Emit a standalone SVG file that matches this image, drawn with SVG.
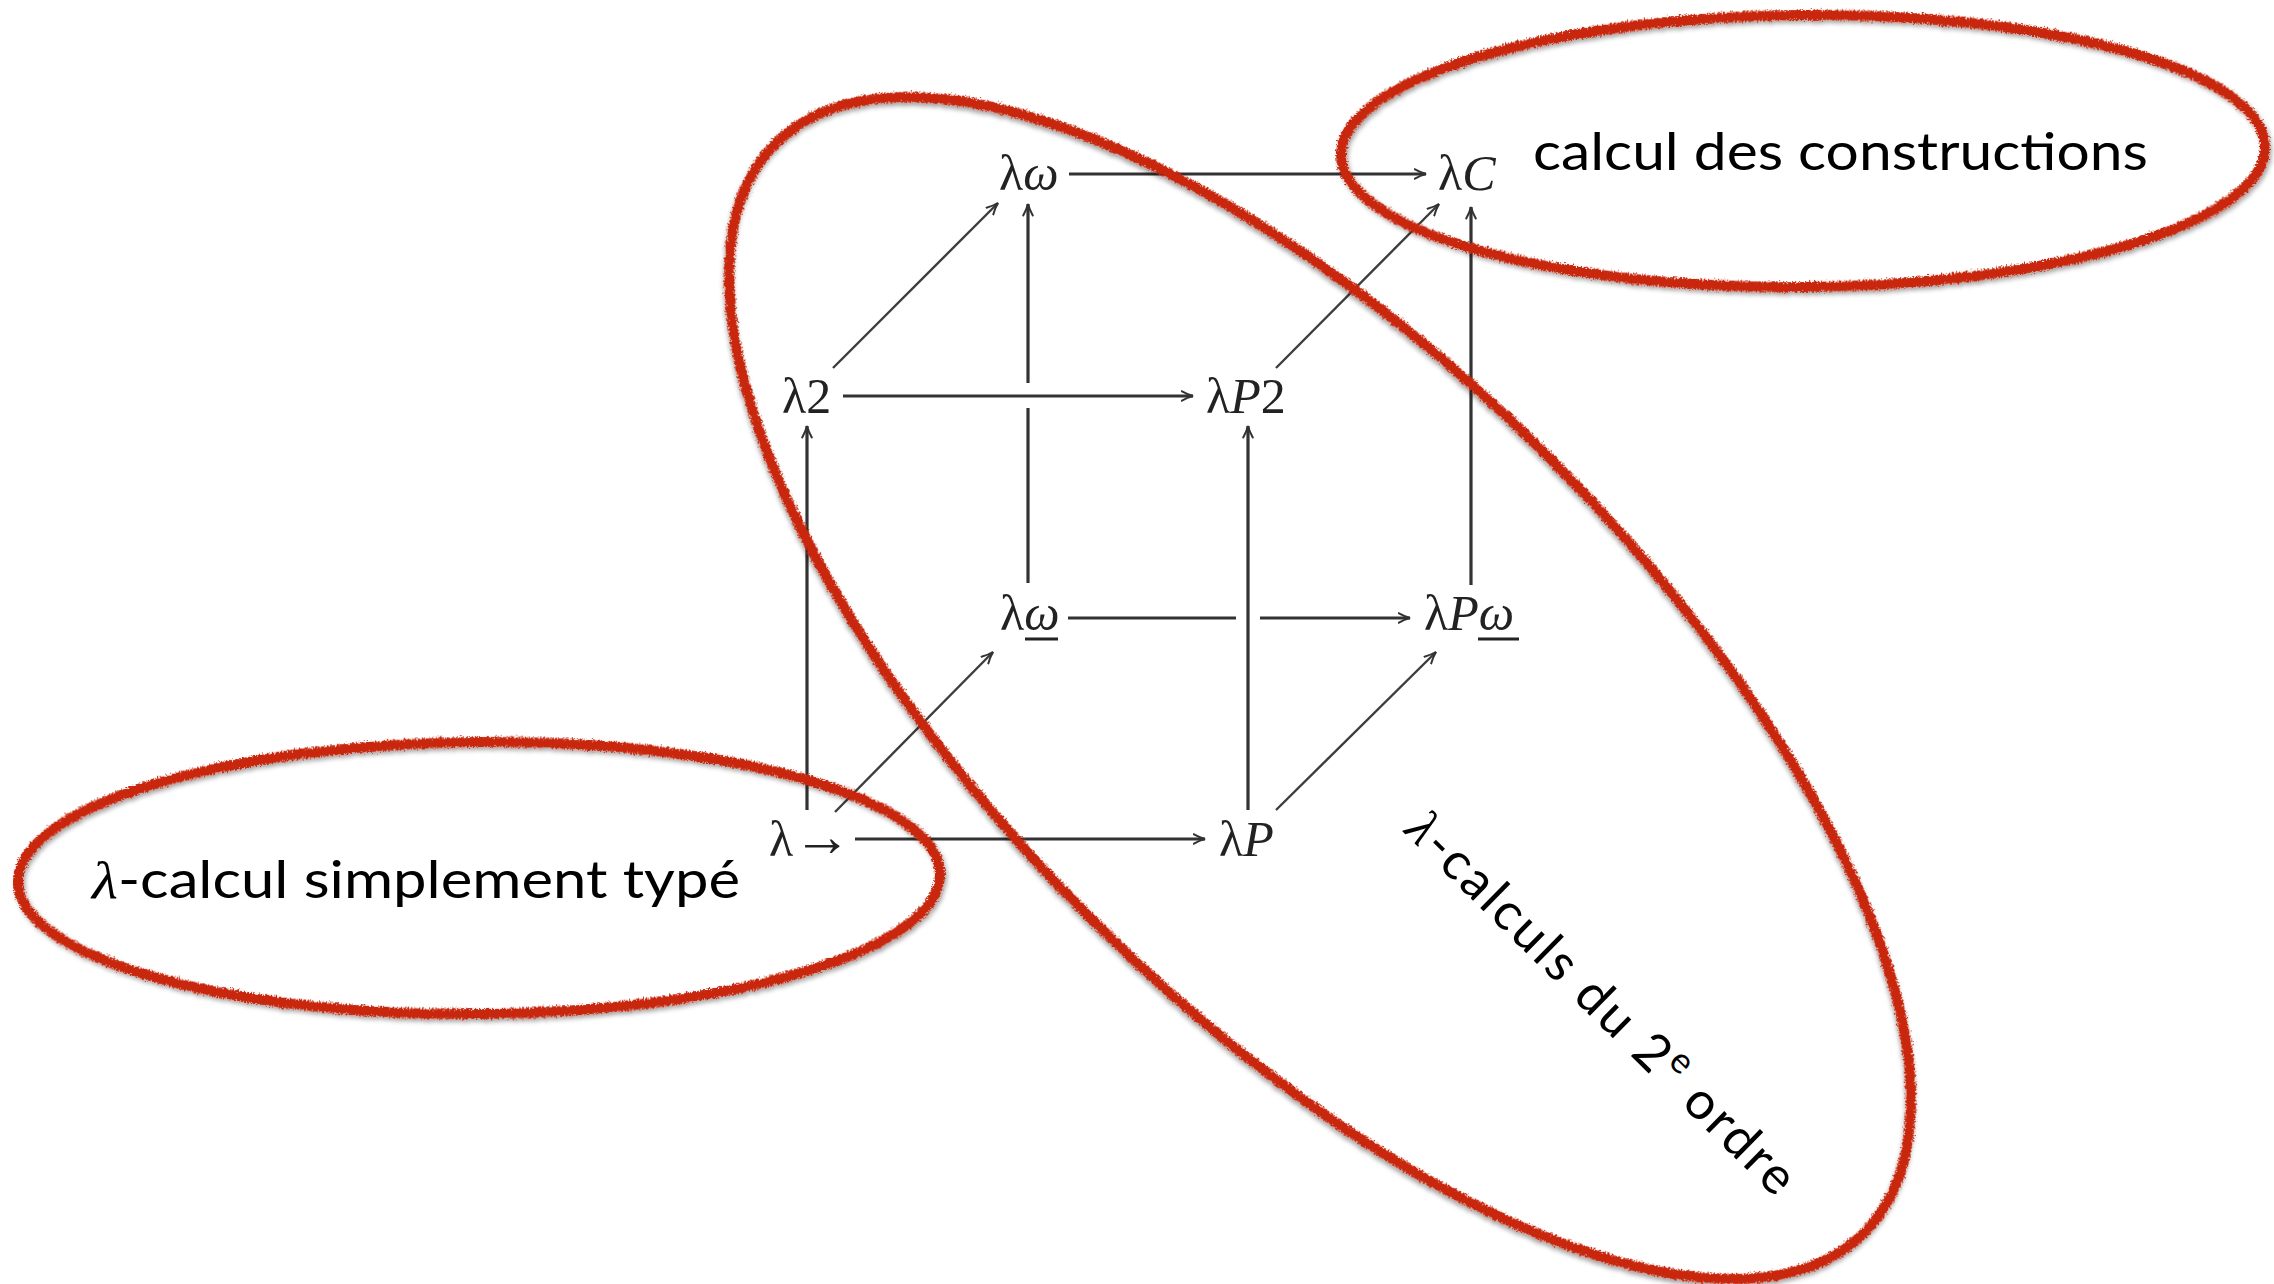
<svg xmlns="http://www.w3.org/2000/svg" width="2274" height="1284" viewBox="0 0 2274 1284">
  <style>
    .math { font-family: "Liberation Serif", "DejaVu Serif", serif; font-size: 50px; fill: #222; }
    .it { font-style: italic; }
    .arrowglyph { font-family: "Liberation Serif", serif; font-size: 58px; }
    .edge { fill: none; stroke: #333; stroke-width: 3.2; }
    .diag { fill: none; stroke: #3c3c3c; stroke-width: 2.4; }
    .ul { stroke: #222; stroke-width: 2.8; }
    .ring { fill: none; stroke: #c8280c; stroke-width: 10; }
    .note { font-family: "Lato", "Noto Sans", "DejaVu Sans", sans-serif; font-size: 52px; fill: #000; }
    .lam { font-family: "Liberation Serif", "DejaVu Serif", serif; font-style: italic; }
  </style>
  <defs>
    <marker id="arr" markerUnits="userSpaceOnUse" viewBox="0 0 14 12" markerWidth="14" markerHeight="12" refX="12.5" refY="6" orient="auto">
      <path d="M1,1.2 Q7,4.6 12.5,6 Q7,7.4 1,10.8" fill="none" stroke="#333" stroke-width="2" stroke-linecap="round"/>
    </marker>
    <filter id="soft" x="-2%" y="-2%" width="104%" height="104%">
      <feGaussianBlur stdDeviation="0.5"/>
    </filter>
    <filter id="crayon" filterUnits="userSpaceOnUse" x="0" y="0" width="2274" height="1284">
      <feTurbulence type="fractalNoise" baseFrequency="0.6" numOctaves="2" seed="7" result="noise"/>
      <feDisplacementMap in="SourceGraphic" in2="noise" scale="7" xChannelSelector="R" yChannelSelector="G" result="rough"/>
      <feGaussianBlur in="rough" stdDeviation="2.2" result="blur"/>
      <feOffset in="blur" dx="2" dy="3" result="off"/>
      <feColorMatrix in="off" type="matrix" values="0 0 0 0 0  0 0 0 0 0  0 0 0 0 0  0 0 0 0.35 0" result="shadow"/>
      <feMerge><feMergeNode in="shadow"/><feMergeNode in="rough"/></feMerge>
    </filter>
  </defs>
  <rect width="2274" height="1284" fill="#fff"/>

  <g id="connectors" filter="url(#soft)">
    <path class="edge" d="M1069,174 H1426" marker-end="url(#arr)"/>
    <path class="diag" d="M833,368 L998,203" marker-end="url(#arr)"/>
    <path class="edge" d="M843,396 H1193" marker-end="url(#arr)"/>
    <path class="edge" d="M1028,583 V408"/>
    <path class="edge" d="M1028,383 V204" marker-end="url(#arr)"/>
    <path class="diag" d="M1276,368 L1439,204" marker-end="url(#arr)"/>
    <path class="edge" d="M1471,585 V207" marker-end="url(#arr)"/>
    <path class="edge" d="M807,810 V426" marker-end="url(#arr)"/>
    <path class="edge" d="M1248,810 V426" marker-end="url(#arr)"/>
    <path class="edge" d="M1068,618 H1236"/>
    <path class="edge" d="M1260,618 H1410" marker-end="url(#arr)"/>
    <path class="diag" d="M835,812 L993,652" marker-end="url(#arr)"/>
    <path class="diag" d="M1276,810 L1436,652" marker-end="url(#arr)"/>
    <path class="edge" d="M855,839 H1205" marker-end="url(#arr)"/>
  </g>

  <g id="node-lambda-omega" filter="url(#soft)">
    <text class="math" x="999" y="190">λ<tspan class="it">ω</tspan></text>
  </g>
  <g id="node-lambda-C" filter="url(#soft)">
    <text class="math" x="1438" y="190">λ<tspan class="it">C</tspan></text>
  </g>
  <g id="node-lambda-2" filter="url(#soft)">
    <text class="math" x="782" y="413">λ2</text>
  </g>
  <g id="node-lambda-P2" filter="url(#soft)">
    <text class="math" x="1206" y="413">λ<tspan class="it">P</tspan>2</text>
  </g>
  <g id="node-lambda-omega-weak" filter="url(#soft)">
    <text class="math" x="1000" y="630">λ<tspan class="it">ω</tspan></text>
    <line class="ul" x1="1025" y1="639" x2="1058" y2="639"/>
  </g>
  <g id="node-lambda-P-omega-weak" filter="url(#soft)">
    <text class="math" x="1424" y="630">λ<tspan class="it">P</tspan><tspan class="it">ω</tspan></text>
    <line class="ul" x1="1478" y1="639" x2="1519" y2="639"/>
  </g>
  <g id="node-lambda-arrow" filter="url(#soft)">
    <text class="math" x="769" y="856">λ<tspan class="arrowglyph">→</tspan></text>
  </g>
  <g id="node-lambda-P" filter="url(#soft)">
    <text class="math" x="1219" y="856">λ<tspan class="it">P</tspan></text>
  </g>

  <g id="group-simply-typed">
    <ellipse class="ring" filter="url(#crayon)" cx="479" cy="878" rx="461" ry="136" transform="rotate(-0.5 479 878)"/>
    <text class="note" x="92" y="898" textLength="648" lengthAdjust="spacingAndGlyphs"><tspan class="lam">λ</tspan>-calcul simplement typé</text>
  </g>
  <g id="group-constructions">
    <ellipse class="ring" filter="url(#crayon)" cx="1803" cy="151" rx="462" ry="136" transform="rotate(-0.5 1803 151)"/>
    <text class="note" x="1533" y="170" textLength="615" lengthAdjust="spacingAndGlyphs">calcul des constructions</text>
  </g>
  <g id="group-second-order">
    <ellipse class="ring" filter="url(#crayon)" cx="1320" cy="688" rx="770" ry="325" transform="rotate(45 1320 688)"/>
    <text class="note" transform="translate(1403,832) rotate(44.5)" letter-spacing="3"><tspan class="lam">λ</tspan>-calculs du 2<tspan font-size="36" dy="-20">e</tspan><tspan dy="20"> ordre</tspan></text>
  </g>
</svg>
